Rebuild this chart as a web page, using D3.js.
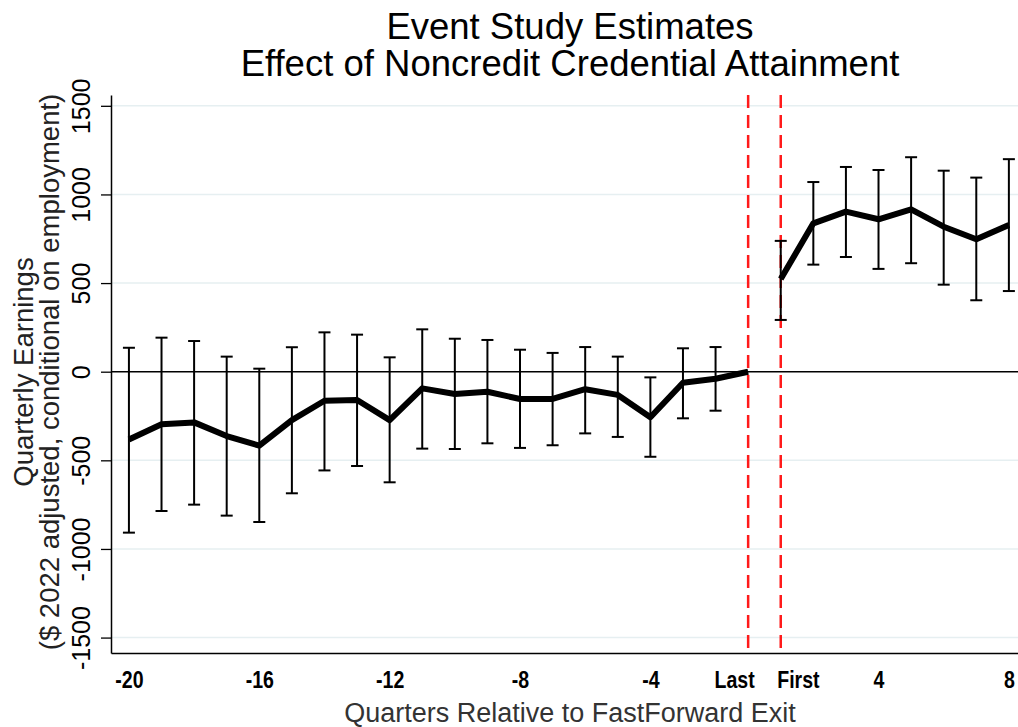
<!DOCTYPE html>
<html>
<head>
<meta charset="utf-8">
<script src="https://cdn.jsdelivr.net/npm/d3@7"></script>
<style>
  body { margin: 0; background: #fff; }
  svg { display: block; font-family: 'Liberation Sans', Arial, Helvetica, sans-serif; }
</style>
</head>
<body>
<div id="chart"></div>
<script>
// event time labels, in plotting order (Last = -1, First = 1)
const periods = [-20, -19, -18, -17, -16, -15, -14, -13, -12, -11, -10, -9, -8, -7, -6, -5, -4, -3, -2, 'Last',
                 'First', 2, 3, 4, 5, 6, 7, 8]
const estimate = [-382, -297, -286, -363, -417, -273, -164, -160, -273, -94, -126, -113, -154, -154, -99, -131, -257, -62, -40, 0,
                  523, 837, 903, 860, 916, 818, 747, 828]
const ciLow = [-908, -786, -750, -812, -848, -686, -557, -532, -624, -434, -436, -404, -430, -415, -348, -368, -480, -263, -220, null,
               292, 604, 647, 580, 612, 491, 403, 455]
const ciHigh = [135, 192, 173, 85, 17, 138, 222, 209, 81, 239, 186, 179, 124, 106, 139, 85, -32, 132, 139, null,
                738, 1070, 1155, 1138, 1210, 1134, 1095, 1199]
const xTickLabels = ['-20', '-16', '-12', '-8', '-4', 'Last', 'First', '4', '8']
const yTicks = [-1500, -1000, -500, 0, 500, 1000, 1500]
const dashedAt = ['Last', 'First']

const width = 1018, height = 727
const margin = { top: 95, right: 0, bottom: 74, left: 111 }

const svg = d3.select('#chart')
    .append('svg')
    .attr('width', width)
    .attr('height', height)

const data = periods.map((p, i) => ({ p: p, i: i, est: estimate[i], lo: ciLow[i], hi: ciHigh[i] }))

const x = d3.scaleLinear()
    .domain([-0.55, periods.length - 1 + 0.28])
    .range([margin.left, width - margin.right])
const y = d3.scaleLinear()
    .domain([-1587, 1561])
    .range([height - margin.bottom, margin.top])
const xOf = p => x(periods.indexOf(p))

// gridlines
svg.append('g')
    .selectAll('line')
    .data(yTicks.filter(d => d !== 0))
    .enter()
    .append('line')
    .attr('x1', margin.left)
    .attr('x2', width - margin.right)
    .attr('y1', d => y(d))
    .attr('y2', d => y(d))
    .attr('stroke', '#e6eff1')
    .attr('stroke-width', 1.5)

// zero line
svg.append('line')
    .attr('x1', margin.left)
    .attr('x2', width - margin.right)
    .attr('y1', y(0))
    .attr('y2', y(0))
    .attr('stroke', '#000')
    .attr('stroke-width', 1.5)

// Y axis
const yAxis = svg.append('g')
    .attr('transform', 'translate(' + margin.left + ',0)')
    .call(d3.axisLeft(y).tickValues(yTicks).tickSize(10).tickSizeOuter(0).tickFormat(d => String(d)))
yAxis.select('.domain').attr('stroke', '#000').attr('stroke-width', 1.5)
yAxis.selectAll('.tick line').attr('stroke', '#000').attr('stroke-width', 1.3)
yAxis.selectAll('.tick text')
    .attr('font-family', null)
    .attr('font-size', 25)
    .attr('fill', '#000')
    .attr('text-anchor', 'middle')
    .attr('x', null)
    .attr('dy', null)
    .attr('transform', 'translate(-21,0) rotate(-90)')

// X axis (labels only)
const xAxis = svg.append('g')
    .attr('transform', 'translate(0,' + (height - margin.bottom) + ')')
    .call(d3.axisBottom(x)
        .tickValues(xTickLabels.map(l => periods.indexOf(isNaN(+l) ? l : +l)))
        .tickSize(0)
        .tickPadding(0)
        .tickFormat(i => String(periods[i])))
xAxis.select('.domain').attr('stroke', '#000').attr('stroke-width', 1.5)
xAxis.selectAll('.tick text')
    .attr('font-family', null)
    .attr('font-size', 23)
    .attr('font-weight', 'bold')
    .attr('fill', '#000')
    .attr('dy', null)
    .attr('y', 35)
    .attr('text-anchor', i => periods[i] === 'Last' ? 'end' : periods[i] === 'First' ? 'start' : 'middle')
    .attr('transform', i => {
        const dx = periods[i] === 'Last' ? 6 : periods[i] === 'First' ? -4 : 0
        return 'translate(' + dx + ',0) scale(0.85,1)'
    })

// red dashed lines
svg.append('g')
    .selectAll('line')
    .data(dashedAt)
    .enter()
    .append('line')
    .attr('x1', d => xOf(d))
    .attr('x2', d => xOf(d))
    .attr('y1', margin.top)
    .attr('y2', height - margin.bottom)
    .attr('stroke', '#ff1a1a')
    .attr('stroke-width', 2.5)
    .attr('stroke-dasharray', '13,7')

// error bars
const bars = svg.append('g')
    .selectAll('g')
    .data(data.filter(d => d.lo !== null))
    .enter()
    .append('g')
    .attr('stroke', '#000')
    .attr('stroke-width', 2)
bars.append('line')
    .attr('x1', d => x(d.i)).attr('x2', d => x(d.i))
    .attr('y1', d => y(d.lo)).attr('y2', d => y(d.hi))
bars.append('line')
    .attr('x1', d => x(d.i) - 6).attr('x2', d => x(d.i) + 6)
    .attr('y1', d => y(d.lo)).attr('y2', d => y(d.lo))
bars.append('line')
    .attr('x1', d => x(d.i) - 6).attr('x2', d => x(d.i) + 6)
    .attr('y1', d => y(d.hi)).attr('y2', d => y(d.hi))

// estimate line, broken at the exit quarter
const firstIdx = periods.indexOf('First')
const segments = [data.slice(0, firstIdx), data.slice(firstIdx)]
svg.append('g')
    .selectAll('path')
    .data(segments)
    .enter()
    .append('path')
    .attr('d', d3.line().x(e => x(e.i)).y(e => y(e.est)))
    .attr('fill', 'none')
    .attr('stroke', '#000')
    .attr('stroke-width', 6)
    .attr('stroke-linejoin', 'round')

// titles
const cx = 570
svg.append('text')
    .attr('x', cx).attr('y', 39)
    .attr('text-anchor', 'middle')
    .attr('font-size', 36.5)
    .text('Event Study Estimates')
svg.append('text')
    .attr('x', cx).attr('y', 76)
    .attr('text-anchor', 'middle')
    .attr('font-size', 36.5)
    .text('Effect of Noncredit Credential Attainment')

svg.append('text')
    .attr('x', cx).attr('y', 722)
    .attr('text-anchor', 'middle')
    .attr('font-size', 27)
    .attr('fill', '#333')
    .text('Quarters Relative to FastForward Exit')

const yMid = 372
svg.append('text')
    .attr('transform', 'translate(33,' + yMid + ') rotate(-90)')
    .attr('text-anchor', 'middle')
    .attr('font-size', 27.5)
    .attr('fill', '#222')
    .text('Quarterly Earnings')
svg.append('text')
    .attr('transform', 'translate(59,' + yMid + ') rotate(-90)')
    .attr('text-anchor', 'middle')
    .attr('font-size', 27.5)
    .attr('fill', '#222')
    .text('($ 2022 adjusted, conditional on employment)')
</script>
</body>
</html>
